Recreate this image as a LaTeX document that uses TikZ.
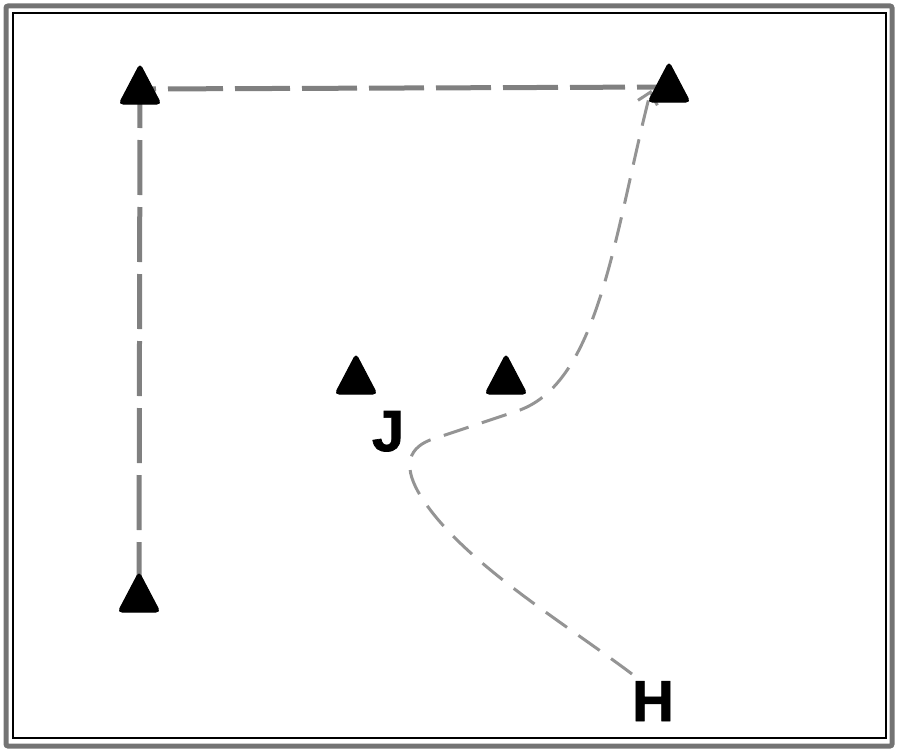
\documentclass[tikz,border=0pt]{standalone}
\usepackage{fontspec}
\setmainfont{Liberation Sans}
\newfontfamily\heavyfont[FakeBold=1.2]{Liberation Sans Bold}
\usetikzlibrary{arrows.meta,calc}
\tikzset{
  walkpath/.style={draw=black!50, line width=5pt, dash pattern=on 55pt off 12pt},
  runpath/.style={draw=black!42, line width=3pt, dash pattern=on 26pt off 14pt},
  letter/.style={inner sep=0pt, anchor=base, font=\fontsize{58}{60}\selectfont\heavyfont},
  conefill/.style={fill=black, draw=black, line width=1pt, rounded corners=4pt},
}
\newcommand{\conemark}[1]{\fill[conefill] ($(#1)+(-21,15)$) -- ($(#1)+(0,-25)$) -- ($(#1)+(21,15)$) -- cycle;}
\begin{document}
\begin{tikzpicture}[x=1pt,y=-1pt]
\useasboundingbox (0,0) rectangle (900,752);
% frame
\draw[black!55, line width=5pt, rounded corners=2pt] (6,6) rectangle (892,746);
\draw[black, line width=1.2pt] (13,13) rectangle (886,738);
% named positions
\coordinate (c1) at (140,89);
\coordinate (c2) at (669,87);
\coordinate (c3) at (356,379);
\coordinate (c4) at (506,379);
\coordinate (c5) at (139,597);
\coordinate (hs) at (632,674);
\coordinate (rs) at (651,90);
% letters
\node[letter] (J) at (388,451) {J};
\node[letter] (H) at (653,721) {H};
% paths
\draw[walkpath] (c5) -- (c1) -- (c2);
\draw[runpath, -{Straight Barb[length=11pt,width=20pt,line width=3pt]}]
  (hs) .. controls (560,620) and (460,560) .. (420,495)
       .. controls (405,470) and (405,450) .. (430,440)
       -- (520,410)
       .. controls (600,380) and (615,230) .. (rs);
% cones
\conemark{c1}
\conemark{c2}
\conemark{c3}
\conemark{c4}
\conemark{c5}
\end{tikzpicture}
\end{document}
